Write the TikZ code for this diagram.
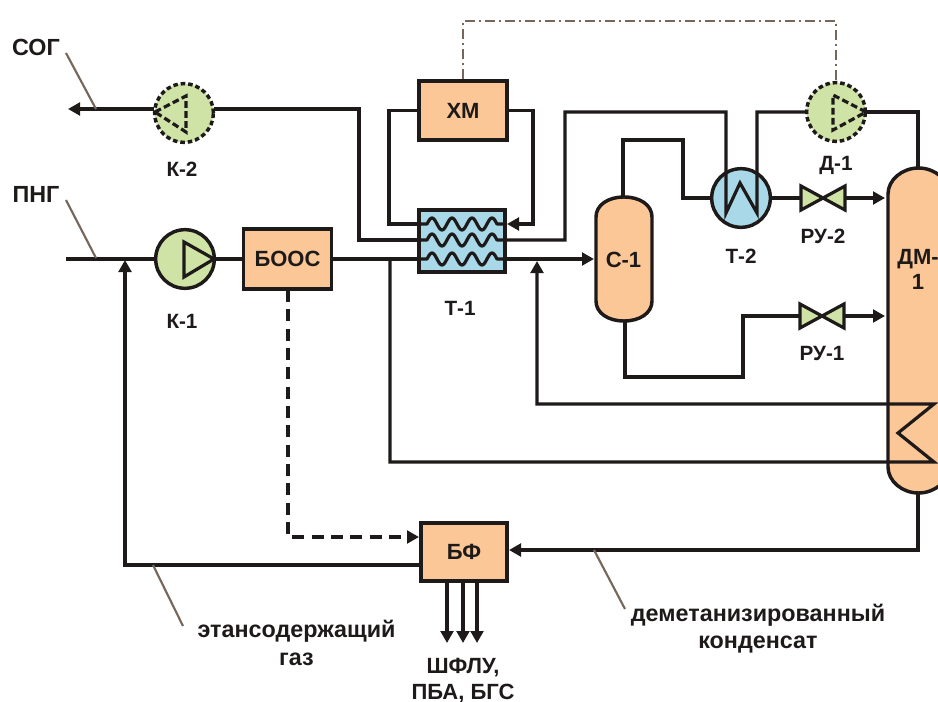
\documentclass[tikz,border=0pt]{standalone}
\usepackage{fontspec}
\setmainfont{Liberation Sans}
\usetikzlibrary{arrows.meta,calc}
\definecolor{orangefill}{HTML}{FBC797}
\definecolor{bluefill}{HTML}{A9D9E8}
\definecolor{greenfill}{HTML}{CFE3A6}
\definecolor{linecol}{HTML}{1E1A1A}
\definecolor{leadcol}{HTML}{75675C}
\tikzset{
  every node/.style={font=\fontsize{16.5pt}{19pt}\selectfont\bfseries,text=linecol},
  pipe/.style={draw=linecol,line width=2.4pt,line join=miter},
  flow/.style={pipe,-{Triangle[length=9pt,width=9.5pt]}},
  boxnode/.style={draw=linecol,line width=2.8pt,fill=orangefill,inner sep=0pt},
  cnode/.style={circle,draw=linecol,line width=2.6pt,minimum size=44pt,inner sep=0pt},
  vesselshape/.style={draw=linecol,line width=2.6pt,fill=orangefill},
  textlabel/.style={draw=none,fill=none,inner sep=0pt,align=center},
  smalllabel/.style={textlabel,font=\fontsize{15.5pt}{19pt}\selectfont\bfseries},
  longlabel/.style={textlabel,font=\fontsize{17.5pt}{19pt}\selectfont\bfseries},
  leader/.style={draw=leadcol,line width=1.6pt},
  valveshape/.style={draw=linecol,line width=2.4pt,fill=greenfill,line join=miter},
  dashpipe/.style={draw=linecol,line width=2.4pt,dash pattern=on 9pt off 5.5pt},
  control/.style={draw=leadcol,line width=2.1pt,dash pattern=on 8pt off 2.5pt on 2pt off 2.5pt},
  coil/.style={draw=linecol,line width=2.4pt,line join=round}
}
\begin{document}
\begin{tikzpicture}[x=0.75pt,y=-0.75pt]
\clip (0,0) rectangle (938,702);
\fill[white] (0,0) rectangle (938,702);

% apparatus
\node[boxnode,minimum width=66pt,minimum height=44pt] (XM) at (463,110.5) {ХМ};
\node[boxnode,minimum width=66pt,minimum height=45.5pt] (BOOS) at (287.5,259) {БООС};
\node[boxnode,minimum width=64.5pt,minimum height=44pt] (BF) at (464,552) {БФ};
\node[boxnode,fill=bluefill,minimum width=64.5pt,minimum height=46.5pt] (T1) at (462,241) {};
\node[cnode,fill=greenfill] (K1) at (185,259) {};
\node[cnode,fill=greenfill,dash pattern=on 3.4pt off 2.2pt] (K2) at (184,113) {};
\node[cnode,fill=greenfill,dash pattern=on 3.4pt off 2.2pt] (D1) at (836,112) {};
\node[cnode,fill=bluefill] (T2) at (741,198) {};

% vessels
\draw[vesselshape] (596,217) .. controls (596,205) and (608,197) .. (624,197) .. controls (640,197) and (652,205) .. (652,217) -- (652,301) .. controls (652,313) and (640,321) .. (624,321) .. controls (608,321) and (596,313) .. (596,301) -- cycle;
\node[textlabel] (C1) at (623.5,260) {С-1};
\draw[vesselshape] (888,194) .. controls (888,180) and (902,168) .. (918.5,168) .. controls (935,168) and (949,180) .. (949,194) -- (949,467) .. controls (949,481) and (935,493) .. (918.5,493) .. controls (902,493) and (888,481) .. (888,467) -- cycle;
\node[textlabel] (DM) at (918,269.5) {ДМ-\\1};

% named ends
\coordinate (Cin) at (594,259);
\coordinate (Ctop) at (623,197);
\coordinate (Cbot) at (625,321);
\coordinate (DMtop) at (918,168);
\coordinate (DMbot) at (918,493);
\coordinate (DMin2) at (885,198);
\coordinate (DMin1) at (885,316);
\coordinate (RU2) at (823,198);
\coordinate (RU1) at (822,316);
\coordinate (Tw1) at (419,224);
\coordinate (Te1) at (507,224);
\coordinate (Tw2) at (419,240);
\coordinate (Te2) at (505,240);
\coordinate (Tw3) at (419,259);
\coordinate (Te3) at (505,259);
\coordinate (feed) at (66,259);
\coordinate (out) at (68,109);
\coordinate (KtwoIn) at (214,109);
\coordinate (KtwoOut) at (154,109);
\coordinate (rec) at (125,260);
\coordinate (j2) at (537,261);
\coordinate (j3) at (390,259);
\coordinate (coilA) at (934,404);
\coordinate (coilB) at (898,433);
\coordinate (coilC) at (934,462);
\coordinate (BFin) at (509,550);
\coordinate (BFdash) at (419,537);
\coordinate (BFrec) at (421,565);
\coordinate (BOOSb) at (288,290);

% connectors
\draw[pipe] (feed) -- (K1.west);
\draw[pipe] (K1.east) -- (BOOS.west);
\draw[pipe] (BOOS.east) -- (Tw3);
\draw[flow] (KtwoOut) -- (out);
\draw[pipe] (KtwoIn) -| (359,240) -- (Tw2);
\draw[pipe] (XM.west) -| (389,224) -- (Tw1);
\draw[flow] (XM.east) -| (533,224) -- (Te1);
\draw[pipe] (Te2) -| (565,112) -| (726,213) -- (740,183) -- (757,213) |- (D1.west);
\draw[flow] (Te3) -- (Cin);
\draw[pipe] (Ctop) |- (683,140) |- (T2.west);
\draw[pipe] (Cbot) |- (743,377) |- (RU1);
\draw[flow] (RU1) -- (DMin1);
\draw[pipe] (T2.east) -- (RU2);
\draw[flow] (RU2) -- (DMin2);
\draw[pipe] (866,112) -| (DMtop);
\draw[flow] (j3) -- (390,462) -- (coilC) -- (coilB) -- (coilA) -- (537,404) -- (j2);
\draw[flow] (DMbot) |- (BFin);
\draw[flow] (BFrec) -| (rec);
\draw[dashpipe] (BOOSb) |- (410,537);
\draw[flow] (408,537) -- (BFdash);
\draw[flow] (447,581) -- (447,643);
\draw[flow] (463,581) -- (463,643);
\draw[flow] (477,581) -- (477,643);
\draw[control] (XM.north) |- (836,21) -- (D1.north);

% coils of T-1
\foreach \yy in {224,240,259}
  \draw[coil] plot[domain=0:86,samples=87,smooth] ({419+\x},{\yy-6*sin(18*min(max(\x-8,0),70))});

% symbols inside the machines
\draw[pipe] (184,242) -- (184,277) -- (214,259) -- cycle;
\draw[pipe,dash pattern=on 5pt off 2.5pt] (155,112) -- (186,96) -- (186,132) -- cycle;
\draw[pipe,dash pattern=on 5pt off 2.5pt] (866,112) -- (833,95) -- (833,130) -- cycle;

% valves
\draw[valveshape] (RU2) -- ++(-22,-12) -- ++(0,24) -- cycle;
\draw[valveshape] (RU2) -- ++(22,-12) -- ++(0,24) -- cycle;
\draw[valveshape] (RU1) -- ++(-22,-12) -- ++(0,24) -- cycle;
\draw[valveshape] (RU1) -- ++(22,-12) -- ++(0,24) -- cycle;

% labels and leaders
\node[longlabel] (lSOG) at (36,47) {СОГ};
\node[longlabel] (lPNG) at (36,194) {ПНГ};
\node[smalllabel] (lK2) at (182,169) {К-2};
\node[smalllabel] (lK1) at (182,321) {К-1};
\node[smalllabel] (lT1) at (460,308) {Т-1};
\node[smalllabel] (lT2) at (741,256) {Т-2};
\node[smalllabel] (lD1) at (836,165) {Д-1};
\node[smalllabel] (lRU2) at (823,236) {РУ-2};
\node[smalllabel] (lRU1) at (822,353) {РУ-1};
\node[longlabel] (lGas) at (296.5,643) {этансодержащий\\[2pt]газ};
\node[longlabel] (lCond) at (758,628.5) {деметанизированный\\[1pt]конденсат};
\node[textlabel] (lProd) at (463,680.5) {ШФЛУ,\\ПБА, БГС};
\draw[leader] (66,53) -- (96,109);
\draw[leader] (66,200) -- (96,258);
\draw[leader] (153,565) -- (183,626);
\draw[leader] (594,550) -- (625,609);
\end{tikzpicture}
\end{document}
